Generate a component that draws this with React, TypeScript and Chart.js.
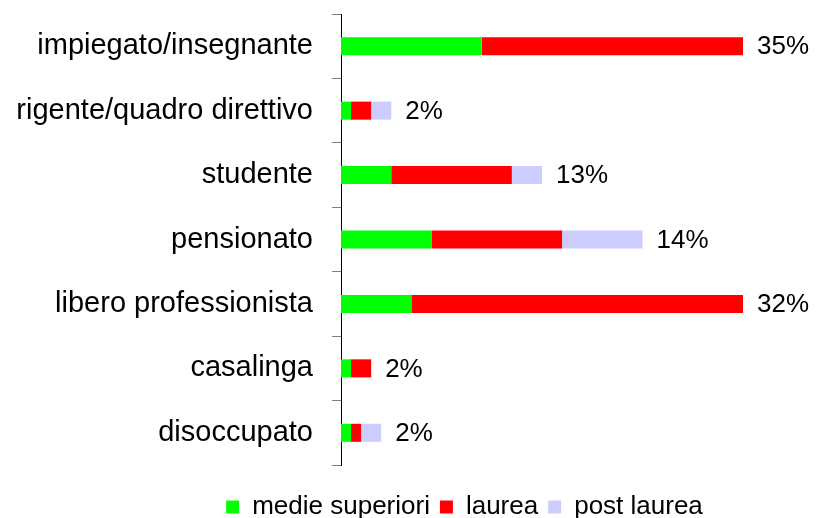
import React, { useEffect, useRef } from "react";
import { Chart, registerables } from "chart.js";

Chart.register(...registerables);

const categories = [
  "impiegato/insegnante",
  "rigente/quadro direttivo",
  "studente",
  "pensionato",
  "libero professionista",
  "casalinga",
  "disoccupato",
];
const medieSuperiori = [14, 1, 5, 9, 7, 1, 1];
const laurea = [26, 2, 12, 13, 33, 2, 1];
const postLaurea = [0, 2, 3, 8, 0, 0, 2];
const percentLabels = ["35%", "2%", "13%", "14%", "32%", "2%", "2%"];
const seriesNames = ["medie superiori", "laurea", "post laurea"];
const xMax = 40;

const FONT = "'Liberation Sans', Arial, sans-serif";

const valueLabelPlugin = {
  id: "valueLabels",
  afterLayout(chart: any) {
    // centre the legend under a narrower band, as in the reference
    const lg = chart.legend;
    if (lg) {
      lg.left = 186;
      lg.right = chart.chartArea.right;
    }
  },
  afterDatasetsDraw(chart: any) {
    const { ctx, scales } = chart;
    const xs = scales.x;
    const ys = scales.y;
    ctx.save();
    ctx.font = `26px ${FONT}`;
    ctx.fillStyle = "#000";
    ctx.textAlign = "left";
    ctx.textBaseline = "middle";
    categories.forEach((_, i) => {
      const total = medieSuperiori[i] + laurea[i] + postLaurea[i];
      const x = xs.getPixelForValue(total) + 14;
      const y = ys.getPixelForValue(i) + 1;
      ctx.fillText(percentLabels[i], x, y);
    });
    ctx.restore();
  },
};

export default function App() {
  const ref = useRef<HTMLCanvasElement>(null);
  useEffect(() => {
    if (!ref.current) return;
    const chart = new Chart(ref.current, {
      type: "bar",
      data: {
        labels: categories,
        datasets: [
          { label: seriesNames[0], data: medieSuperiori, backgroundColor: "#00ff00", borderWidth: 0 },
          { label: seriesNames[1], data: laurea, backgroundColor: "#ff0000", borderWidth: 0 },
          { label: seriesNames[2], data: postLaurea, backgroundColor: "#ccccff", borderWidth: 0 },
        ],
      },
      options: {
        indexAxis: "y",
        responsive: true,
        maintainAspectRatio: false,
        animation: false,
        datasets: { bar: { categoryPercentage: 1, barPercentage: 0.28 } },
        layout: { padding: { left: 0, right: 76, top: 14, bottom: 0 } },
        scales: {
          x: {
            stacked: true,
            min: 0,
            max: xMax,
            grid: { display: false },
            border: { display: false },
            ticks: { display: false },
            afterFit: (s: any) => {
              s.height = 19;
              s.paddingLeft = 0;
              s.paddingRight = 0;
            },
          },
          y: {
            stacked: true,
            grid: {
              display: true,
              drawOnChartArea: false,
              drawTicks: true,
              tickLength: 9,
              color: "#808080",
              offset: true,
            },
            border: { display: true, color: "#000", width: 1 },
            ticks: {
              color: "#000",
              font: { family: FONT, size: 29 },
              padding: 19,
              autoSkip: false,
            },
            afterFit: (s: any) => {
              s.width = 341;
              s.paddingTop = 0;
              s.paddingBottom = 0;
            },
          },
        },
        plugins: {
          legend: {
            position: "bottom",
            labels: {
              boxWidth: 13,
              boxHeight: 13,
              padding: 10,
              color: "#000",
              font: { family: FONT, size: 26 },
            },
          },
          tooltip: { enabled: false },
        },
      },
      plugins: [valueLabelPlugin],
    });
    return () => chart.destroy();
  }, []);
  return (
    <div
      style={{
        position: "absolute",
        left: 0,
        top: 0,
        width: 819,
        height: 518,
        overflow: "hidden",
        background: "#fff",
      }}
    >
      <div style={{ position: "relative", width: 819, height: 530 }}>
        <canvas ref={ref} />
      </div>
    </div>
  );
}
